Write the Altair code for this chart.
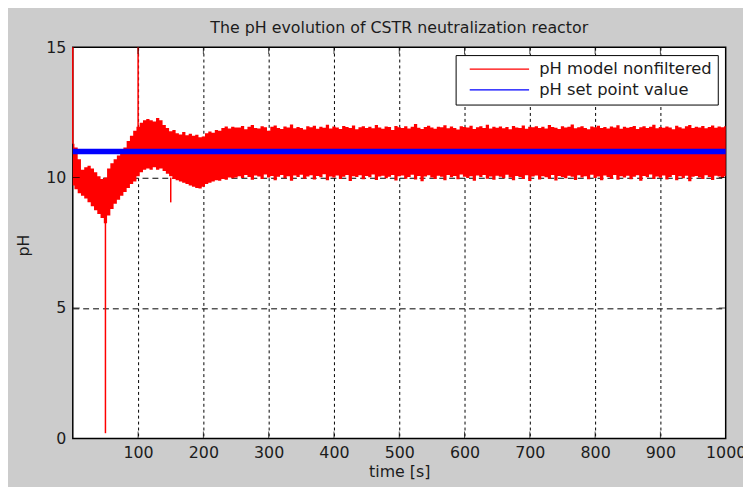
import altair as alt
import pandas as pd

# ---------------- data ----------------
time_s = list(range(0, 1001, 5))

ph_upper = [
    11.3, 11.15, 10.7, 10.3, 10.4, 10.45, 10.35, 10.2, 10.05, 9.95,
    10.0, 10.35, 10.55, 10.7, 10.85, 11.0, 11.15, 11.4, 11.6, 11.8,
    11.95, 12.1, 12.2, 12.25, 12.2, 12.15, 12.28, 12.2, 12.02, 11.9,
    11.78, 11.82, 11.7, 11.65, 11.75, 11.62, 11.68, 11.6, 11.64, 11.55,
    11.58, 11.7, 11.77, 11.72, 11.82, 11.8, 11.9, 11.96, 11.88, 11.95,
    11.92,
    11.92, 11.98, 11.85, 11.95, 12.02, 11.9, 11.88, 11.97, 11.93, 11.8,
    11.95, 12.0, 11.9, 11.86, 11.96, 11.92, 12.04, 11.89, 11.94, 11.9,
    11.84, 11.97, 11.93, 11.99, 11.87, 11.95, 11.91, 12.03, 11.88, 11.96,
    11.92, 11.86, 11.98, 11.94, 11.9, 12.0, 11.85, 11.93, 11.97, 11.9,
    11.95, 11.89, 12.02, 11.92, 11.87, 11.96, 11.94, 11.82, 11.98, 11.93,
    11.9, 11.97, 11.88, 11.95, 12.05, 11.91, 11.86, 11.94, 11.99, 11.92,
    11.87, 11.95, 11.93, 12.01, 11.89, 11.96, 11.9, 11.84, 11.97, 11.94,
    11.92, 11.99, 11.86, 11.93, 11.97, 11.9, 12.03, 11.88, 11.95, 11.91,
    11.96, 11.89, 11.94, 11.85, 11.98, 11.92, 11.9, 12.0, 11.87, 11.95,
    11.93, 11.97, 11.9, 11.95, 11.88, 12.02, 11.94, 11.91, 11.86, 11.97,
    11.92, 11.95, 12.04, 11.89, 11.93, 11.97, 11.9, 11.85, 11.96, 11.93,
    11.99, 11.9, 11.94, 11.88, 11.96, 11.92, 12.01, 11.87, 11.95, 11.91,
    11.94, 11.98, 11.86, 11.93, 11.97, 11.9, 11.95, 12.03, 11.89, 11.94,
    11.91, 11.96, 11.92, 11.85, 11.99, 11.93, 11.88, 11.97, 12.02, 11.9,
    11.95, 11.92, 11.98, 11.89, 11.94, 12.0, 11.91, 11.96, 11.93, 11.97,
]

ph_lower = [
    9.7, 9.55, 9.4, 9.3, 9.2, 9.05, 8.9, 8.75, 8.6, 8.45,
    8.25, 8.55, 8.8, 9.0, 9.15, 9.3, 9.45, 9.6, 9.75, 9.85,
    10.05, 10.2, 10.3, 10.35, 10.3, 10.4, 10.3, 10.35, 10.25, 10.15,
    10.05, 9.95, 9.9, 9.85, 9.8, 9.75, 9.7, 9.65, 9.6, 9.58,
    9.65, 9.75, 9.8, 9.85, 9.9, 9.88, 9.95, 9.92, 10.0, 9.97,
    10.0,
    10.05, 9.98, 10.1, 10.02, 9.92, 10.08, 10.04, 9.95, 10.12, 10.0,
    10.06, 9.9, 10.03, 10.1, 9.97, 10.05, 9.88, 10.08, 10.02, 10.11,
    9.96, 10.04, 10.09, 9.93, 10.06, 10.01, 10.13, 9.9, 10.04, 10.0,
    10.08, 9.95, 10.03, 10.1, 9.87, 10.05, 10.02, 10.09, 9.94, 10.06,
    10.01, 10.12, 9.91, 10.04, 10.07, 9.97, 10.03, 10.1, 9.89, 10.05,
    10.08, 9.96, 10.02, 10.11, 9.93, 10.06, 9.86, 10.04, 10.09, 10.0,
    9.95, 10.07, 10.03, 9.9, 10.1, 10.01, 10.06, 9.94, 10.12, 10.03,
    9.98, 10.05, 9.88, 10.08, 10.02, 10.1, 9.96, 10.04, 9.92, 10.07,
    10.03, 9.97, 10.11, 10.0, 9.9, 10.06, 10.02, 9.95, 10.09, 9.87,
    10.04, 10.08, 9.93, 10.05, 10.01, 9.96, 10.1, 9.89, 10.06, 10.02,
    9.97, 10.07, 10.03, 9.91, 10.09, 10.0, 10.05, 9.94, 10.11, 9.98,
    10.04, 9.9, 10.08, 10.02, 9.96, 10.1, 9.92, 10.05, 10.0, 10.07,
    9.94, 10.03, 10.09, 9.88, 10.06, 10.01, 10.12, 9.95, 10.04, 9.99,
    10.08, 9.93, 10.02, 10.1, 9.9, 10.05, 9.97, 10.07, 9.86, 10.03,
    10.06, 10.0, 9.95, 10.09, 10.02, 9.91, 10.07, 10.04, 9.98, 10.05,
]

# isolated spikes of the unfiltered signal
spike_time = [0, 50, 100, 150]
spike_from = [11.3, 8.3, 11.9, 10.0]
spike_to = [15.0, 0.2, 15.0, 9.05]

# set point
setpoint_time = [0, 1000]
setpoint_value = [11, 11]

x_tick_values = [100, 200, 300, 400, 500, 600, 700, 800, 900, 1000]
y_tick_values = [0, 5, 10, 15]
x_inner_ticks = [100, 200, 300, 400, 500, 600, 700, 800, 900]
y_inner_ticks = [5, 10]

label_red = "pH model nonfiltered"
label_blue = "pH set point value"
series_names = [label_red, label_blue]
series_colors = ["#ff0000", "#0000ff"]

# ---------------- tables ----------------
band_df = pd.DataFrame({"t": time_s, "lo": ph_lower, "hi": ph_upper})
spike_df = pd.DataFrame({"t": spike_time, "lo": spike_from, "hi": spike_to})
sp_df = pd.DataFrame({"t": setpoint_time, "lo": setpoint_value,
                      "series": [label_blue] * len(setpoint_time)})
xt_df = pd.DataFrame([{"t": v, "lo": e} for v in x_inner_ticks for e in (0, 15)])
yt_df = pd.DataFrame([{"t": e, "lo": v} for v in y_inner_ticks for e in (0, 1000)])

FONT = "DejaVu Sans"
TXT = "#1c1c1c"

xscale = alt.Scale(domain=[0, 1000], nice=False, zero=False)
yscale = alt.Scale(domain=[0, 15], nice=False)

x_axis = alt.Axis(
    values=x_tick_values, format="d", title="time [s]", grid=True, gridColor="black",
    gridDash=[3, 3], gridWidth=1,
    gridOpacity={"condition": {"test": "datum.value >= 1000", "value": 0}, "value": 1},
    domain=False, ticks=False,
    tickSize=0, labelPadding=6, labelFont=FONT, labelFontSize=16,
    labelColor=TXT, labelFlush=False, labelOverlap=False,
    titleFont=FONT, titleFontSize=16, titleFontWeight="normal",
    titleColor=TXT, titleBaseline="alphabetic", titleY=38,
)
y_axis = alt.Axis(
    values=y_tick_values, format="d", title="pH", grid=True, gridColor="black",
    gridDash=[6, 4], gridWidth=1,
    gridOpacity={"condition": {"test": "datum.value <= 0 || datum.value >= 15", "value": 0},
                 "value": 1},
    domain=False, ticks=False,
    tickSize=0, labelPadding=7, labelFont=FONT, labelFontSize=16,
    labelColor=TXT, labelOverlap=False, labelFlush=False,
    titleFont=FONT, titleFontSize=16, titleFontWeight="normal",
    titleColor=TXT, titleBaseline="alphabetic", titleX=-45, titleY=200,
    titleAngle=270,
)

band = alt.Chart(band_df).mark_area(
    color="#ff0000", interpolate="step", opacity=1
).encode(
    x=alt.X("t:Q", scale=xscale, axis=x_axis),
    y=alt.Y("lo:Q", scale=yscale, axis=y_axis),
    y2="hi:Q",
)

spikes = alt.Chart(spike_df).mark_rule(color="#ff0000", strokeWidth=1.5).encode(
    x="t:Q", y="lo:Q", y2="hi:Q"
)

xticks = alt.Chart(xt_df).mark_tick(
    orient="vertical", size=14, thickness=1, color="black", clip=True
).encode(x="t:Q", y="lo:Q")

yticks = alt.Chart(yt_df).mark_tick(
    orient="horizontal", size=14, thickness=1, color="black", clip=True
).encode(x="t:Q", y="lo:Q")

legend = alt.Legend(
    title=None, orient="top-right", offset=8,
    fillColor="white", strokeColor="black", padding=6,
    labelFont=FONT, labelFontSize=16.5, labelColor=TXT, labelLimit=0,
    symbolType="M0,0L12,0", symbolSize=100, symbolStrokeWidth=1.3,
    labelOffset=62, rowPadding=4,
)

setpoint = alt.Chart(sp_df).mark_line(strokeWidth=5.5).encode(
    x="t:Q",
    y="lo:Q",
    color=alt.Color("series:N", scale=alt.Scale(domain=series_names, range=series_colors),
                    legend=legend),
)

chart = alt.layer(band, spikes, xticks, yticks, setpoint).properties(
    width=660,
    height=395.5,
    padding={"left": 65.5, "top": 37, "right": 17.5, "bottom": 46},
    autosize=alt.AutoSizeParams(type="none"),
    background="#cccccc",
    title=alt.TitleParams(
        "The pH evolution of CSTR neutralization reactor",
        font=FONT, fontSize=16, fontWeight="normal", color=TXT,
        anchor="middle", frame="group", offset=3.5,
    ),
).configure_view(
    stroke="black", strokeWidth=1.5, fill="white"
)

chart.save("out.html", embed_options={"renderer": "svg", "actions": False})
